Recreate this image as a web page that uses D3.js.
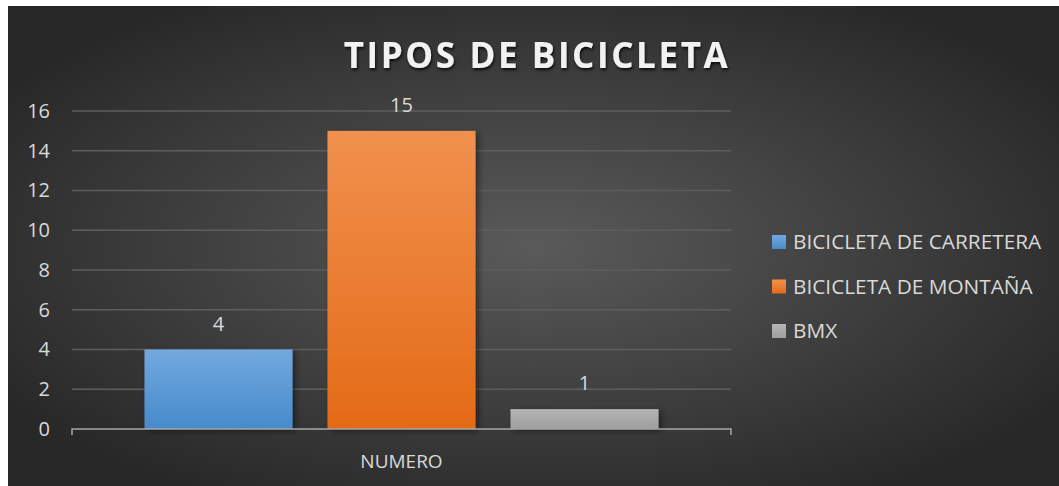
<!DOCTYPE html>
<html>
<head>
<meta charset="utf-8">
<script src="https://cdn.jsdelivr.net/npm/d3@7"></script>
<style>
  body { margin: 0; background: #fff; }
  text { font-family: "Open Sans", "Noto Sans", sans-serif; }
</style>
</head>
<body>
<svg id="chart" width="1059" height="486"></svg>
<script>
const categories = ["NUMERO"];
const seriesNames = ["BICICLETA DE CARRETERA", "BICICLETA DE MONTAÑA", "BMX"];
const seriesValues = [4, 15, 1];
const yTicks = [0, 2, 4, 6, 8, 10, 12, 14, 16];
const title = "TIPOS DE BICICLETA";

const colors = [
    ["#72a9de", "#468acb"],
    ["#f1914e", "#e46a17"],
    ["#b5b5b5", "#9e9e9e"]
];

var svg = d3.select("#chart");
var W = 1059, H = 486;
var margin = {left: 72, right: 328, top: 111, bottom: 57};

var defs = svg.append("defs");
var bg = defs.append("radialGradient").attr("id", "bg")
    .attr("cx", "0.5").attr("cy", "0.5").attr("r", "0.6");
bg.append("stop").attr("offset", "0%").attr("stop-color", "#5a5a5a");
bg.append("stop").attr("offset", "100%").attr("stop-color", "#282828");

colors.forEach(function(c, i) {
    var g = defs.append("linearGradient").attr("id", "bar" + i)
        .attr("x1", 0).attr("y1", 0).attr("x2", 0).attr("y2", 1);
    g.append("stop").attr("offset", "0%").attr("stop-color", c[0]);
    g.append("stop").attr("offset", "100%").attr("stop-color", c[1]);
});

var shadow = defs.append("filter").attr("id", "shadow")
    .attr("x", "-20%").attr("y", "-20%").attr("width", "150%").attr("height", "150%");
shadow.append("feDropShadow").attr("dx", 3).attr("dy", 2).attr("stdDeviation", 3)
    .attr("flood-color", "#000").attr("flood-opacity", 0.45);

var tshadow = defs.append("filter").attr("id", "tshadow");
tshadow.append("feDropShadow").attr("dx", 1).attr("dy", 2).attr("stdDeviation", 1.5)
    .attr("flood-color", "#000").attr("flood-opacity", 0.8);

// background panel
svg.append("rect").attr("x", 8).attr("y", 6).attr("width", W - 8).attr("height", H - 6)
    .attr("fill", "url(#bg)");

var x0 = d3.scaleBand().domain(categories)
    .range([margin.left, W - margin.right]).paddingInner(0).paddingOuter(0);
var x1 = d3.scaleBand().domain(seriesNames)
    .range([0, x0.bandwidth()]).paddingInner(0.191).paddingOuter(0.396);
var y = d3.scaleLinear().domain([0, 16]).range([H - margin.bottom, margin.top]);

// gridlines
svg.append("g").selectAll("line").data(yTicks.filter(d => d > 0)).join("line")
    .attr("x1", margin.left).attr("x2", W - margin.right)
    .attr("y1", d => y(d)).attr("y2", d => y(d))
    .attr("stroke", "#5e5e5e").attr("stroke-width", 1.3);

// y axis labels
var yAxis = d3.axisLeft(y).tickValues(yTicks).tickSize(0).tickPadding(22);
var ya = svg.append("g").attr("transform", "translate(" + margin.left + ",0)").call(yAxis);
ya.select(".domain").remove();
ya.selectAll("text").attr("fill", "#d9d9d9").style("font-size", "20px")
    .style("font-family", "\"Open Sans\", \"Noto Sans\", sans-serif");

// bars
var bars = svg.append("g");
categories.forEach(function(cat) {
    bars.selectAll("rect").data(seriesValues).join("rect")
        .attr("x", (d, i) => x0(cat) + x1(seriesNames[i]))
        .attr("y", d => y(d))
        .attr("width", x1.bandwidth())
        .attr("height", d => y(0) - y(d))
        .attr("fill", (d, i) => "url(#bar" + i + ")")
        .attr("filter", "url(#shadow)");
    svg.append("g").selectAll("text").data(seriesValues).join("text")
        .attr("x", (d, i) => x0(cat) + x1(seriesNames[i]) + x1.bandwidth() / 2)
        .attr("y", d => y(d) - 19)
        .attr("text-anchor", "middle")
        .attr("fill", "#d9d9d9").style("font-size", "20px")
        .text(d => d);
});

// x axis
var xa = svg.append("g").attr("transform", "translate(0," + y(0) + ")");
xa.append("path")
    .attr("d", "M" + margin.left + ",6V0H" + (W - margin.right) + "V6")
    .attr("fill", "none").attr("stroke", "#a6a6a6").attr("stroke-width", 1.5);
xa.selectAll("text").data(categories).join("text")
    .attr("x", d => x0(d) + x0.bandwidth() / 2)
    .attr("y", 39)
    .attr("text-anchor", "middle")
    .attr("fill", "#d9d9d9").style("font-size", "19px")
    .text(d => d);

// title
svg.append("text")
    .attr("x", 537).attr("y", 68)
    .attr("text-anchor", "middle")
    .attr("fill", "#f2f2f2")
    .style("font-size", "35px").style("font-weight", "bold")
    .style("letter-spacing", "2.6px")
    .attr("filter", "url(#tshadow)")
    .text(title);

// legend
var legend = svg.append("g").attr("transform", "translate(772,242)");
var li = legend.selectAll("g").data(seriesNames).join("g")
    .attr("transform", (d, i) => "translate(0," + i * 44.5 + ")");
li.append("rect").attr("x", 0).attr("y", -7).attr("width", 14).attr("height", 14)
    .attr("fill", (d, i) => "url(#bar" + i + ")");
li.append("text").attr("x", 21).attr("y", 7)
    .attr("fill", "#d9d9d9").style("font-size", "20.8px")
    .text(d => d);
</script>
</body>
</html>
